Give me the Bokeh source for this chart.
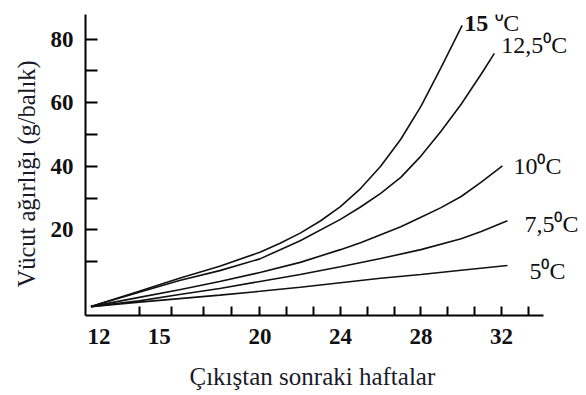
from bokeh.plotting import figure
from bokeh.models import Range1d, FixedTicker, Label, Title
from bokeh.embed import file_html
from bokeh.resources import INLINE

# Data (weeks after hatching vs body weight g/fish)
weeks_15 = [11.6, 14, 16, 18, 20, 21, 22, 23, 24, 25, 26, 27, 28, 29, 30.05]
weight_15 = [-4.1, 0.7, 4.8, 8.6, 13.0, 15.8, 19.0, 22.8, 27.3, 33.0, 40.0, 48.5, 58.8, 71.0, 84.3]

weeks_125 = [11.6, 14, 16, 18, 20, 22, 24, 25, 26, 27, 28, 29, 30, 31, 31.65]
weight_125 = [-4.1, 0.4, 4.1, 7.2, 10.9, 16.6, 23.3, 27.2, 31.5, 36.5, 43.2, 51.0, 59.5, 69.0, 75.5]

weeks_10 = [11.6, 14, 16, 18, 20, 22, 24, 25, 26, 27, 28, 29, 30, 31, 32.05]
weight_10 = [-4.1, -1.2, 1.2, 3.8, 6.6, 9.8, 13.8, 16.0, 18.5, 21.0, 24.0, 27.0, 30.5, 35.0, 40.1]

weeks_75 = [11.6, 14, 16, 18, 20, 22, 24, 26, 28, 30, 31, 32.3]
weight_75 = [-4.1, -2.3, -0.3, 1.6, 3.8, 6.0, 8.4, 11.0, 13.8, 17.2, 19.5, 22.9]

weeks_5 = [11.6, 14, 16, 18, 20, 22, 24, 26, 28, 30, 32.3]
weight_5 = [-4.1, -2.7, -1.6, -0.5, 0.7, 2.0, 3.4, 4.8, 6.0, 7.3, 8.8]

x_tick_labels = [12, 15, 20, 24, 28, 32]
x_tick_marks = [14, 15.6, 17.2, 18.6, 20, 21.33, 22.67, 24, 25.33, 26.67, 28, 29.33, 30.67, 32, 33.33]
y_ticks = [20, 40, 60, 80]
y_minor = [10, 30, 50, 70]

curve_names = ["15", "12,5⁰C", "10⁰C", "7,5⁰C", "5⁰C"]
x_title = "Çıkıştan sonraki haftalar"
y_title = "Vücut ağırlığı (g/balık)"

SERIF = "Liberation Serif"
X_START, X_AXIS_END = 11.33, 34.09

p = figure(width=586, height=395, output_backend="svg", toolbar_location=None,
           x_range=Range1d(X_START, 36.23), y_range=Range1d(-6.9, 87.7),
           min_border_left=85, min_border_right=0, min_border_top=14, min_border_bottom=80)
p.outline_line_color = None
p.xgrid.visible = False
p.ygrid.visible = False
p.background_fill_color = "white"
p.border_fill_color = "white"

series = [(weeks_15, weight_15), (weeks_125, weight_125), (weeks_10, weight_10),
          (weeks_75, weight_75), (weeks_5, weight_5)]
for xs, ys in series:
    p.line(xs, ys, line_color="#111111", line_width=1.6)

# axes
xa = p.xaxis[0]
xa.bounds = (X_START, X_AXIS_END)
xa.ticker = FixedTicker(ticks=x_tick_labels, minor_ticks=x_tick_marks)
xa.major_tick_in = 0
xa.major_tick_out = 0
xa.minor_tick_in = 9
xa.minor_tick_out = 0
xa.axis_line_width = 2
xa.minor_tick_line_width = 2
xa.major_label_text_font = SERIF
xa.major_label_text_font_style = "bold"
xa.major_label_text_font_size = "23px"
xa.major_label_text_color = "#111111"
xa.major_label_standoff = 13

ya = p.yaxis[0]
ya.ticker = FixedTicker(ticks=y_ticks, minor_ticks=y_minor)
ya.major_tick_in = 12
ya.major_tick_out = 0
ya.minor_tick_in = 12
ya.minor_tick_out = 0
ya.axis_line_width = 2
ya.major_tick_line_width = 2
ya.minor_tick_line_width = 2
ya.major_label_text_font = SERIF
ya.major_label_text_font_style = "bold"
ya.major_label_text_font_size = "23px"
ya.major_label_text_color = "#111111"
ya.major_label_standoff = 12

# axis titles (as side titles so they can be centred on the drawn axis line)
p.add_layout(Title(text=x_title, align="left", offset=104,
                   padding=dict(left=0, right=0, top=9, bottom=0),
                   text_font=SERIF, text_font_size="25px", text_font_style="normal",
                   text_color="#1a1a2a"), "below")
p.add_layout(Title(text=y_title, align="left", offset=28,
                   padding=dict(left=0, right=0, top=0, bottom=3),
                   text_font=SERIF, text_font_size="24.5px", text_font_style="normal",
                   text_color="#1a1a2a"), "left")

# curve labels anchored at each curve's last point
offsets = [(2, 2), (7, 8), (11, 0), (17, -3), (22, -5)]
for (xs, ys), name, (dx, dy) in zip(series, curve_names, offsets):
    bold = name == "15"
    p.add_layout(Label(x=xs[-1], y=ys[-1], text=name, x_offset=dx, y_offset=dy,
                       text_font=SERIF, text_font_size="24px",
                       text_font_style="bold" if bold else "normal",
                       text_baseline="middle", text_color="#111111"))
p.add_layout(Label(x=weeks_15[-1], y=weight_15[-1], text="⁰C", x_offset=33, y_offset=2,
                   text_font=SERIF, text_font_size="24px", text_baseline="middle",
                   text_color="#111111"))

open("out.html", "w").write(file_html(p, INLINE))
